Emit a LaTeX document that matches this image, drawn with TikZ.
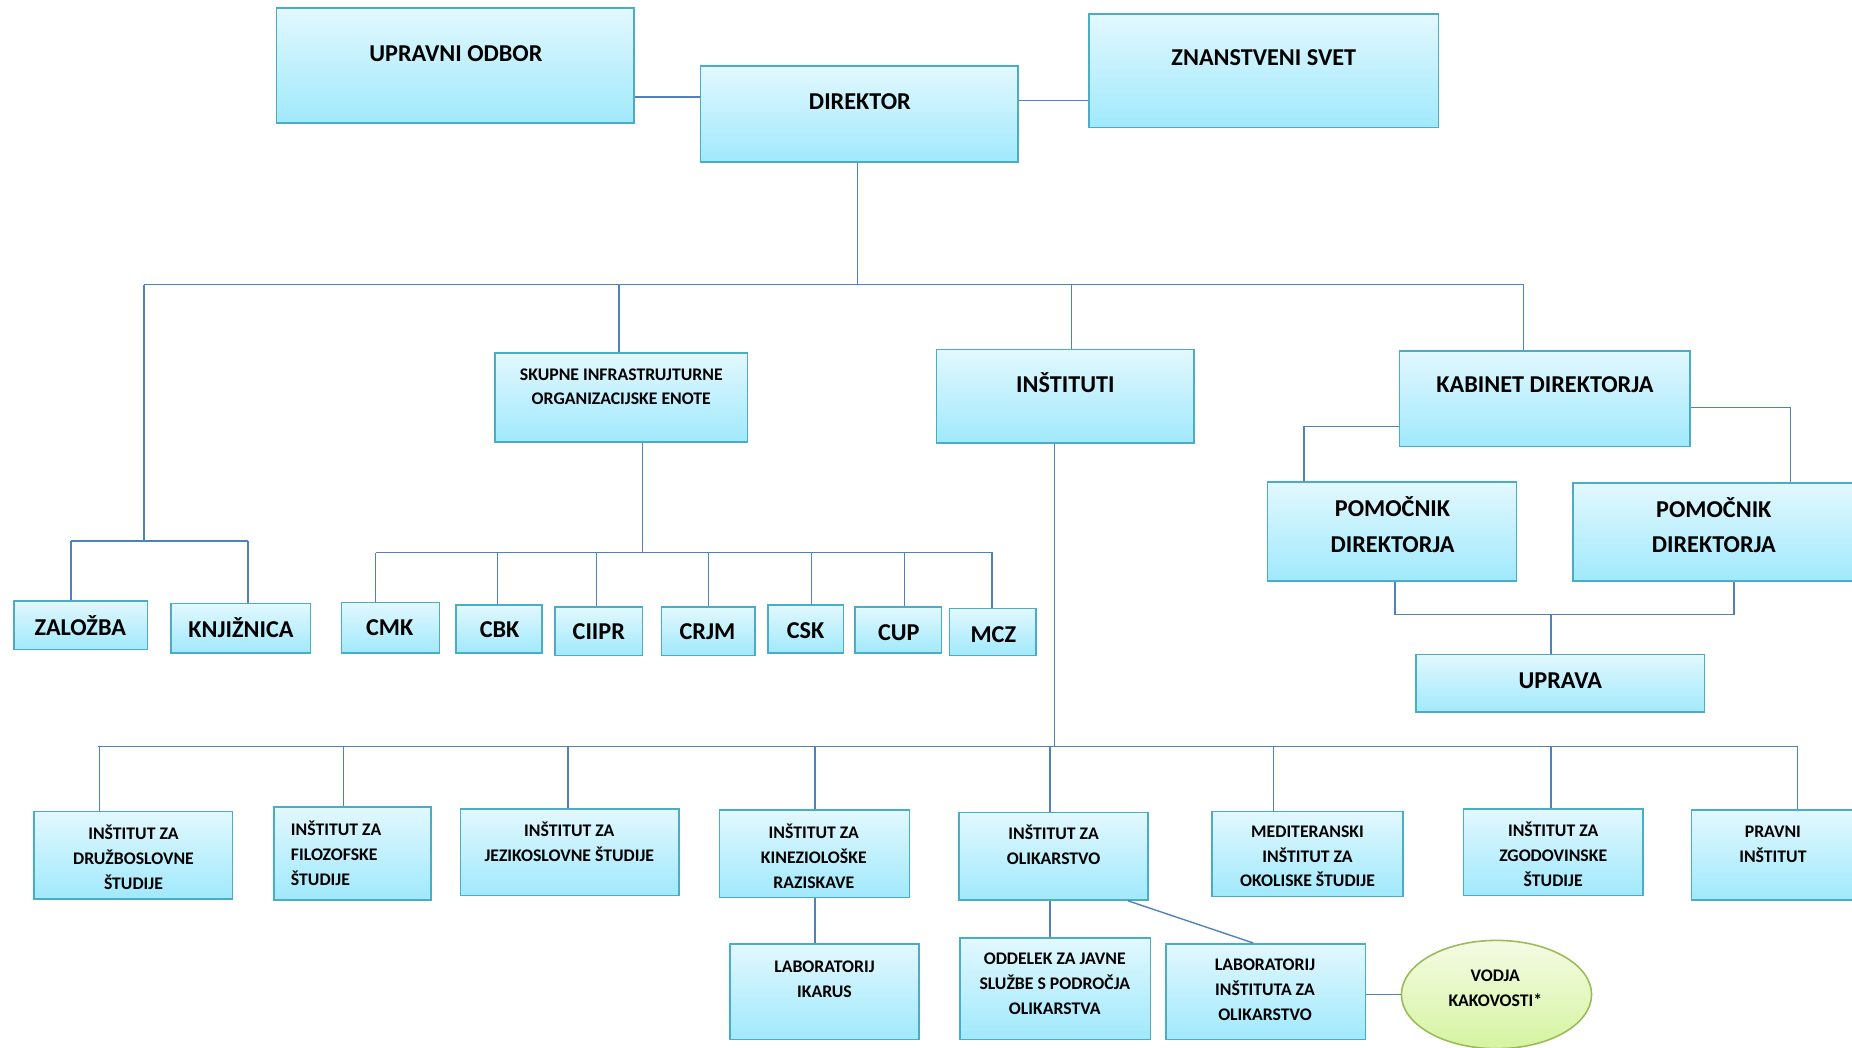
\documentclass[tikz,border=0pt]{standalone}
\usepackage{fontspec}
\setmainfont{Carlito}
\usetikzlibrary{fit,shapes.geometric}
\definecolor{boxtop}{HTML}{E2F8FE}
\definecolor{boxbot}{HTML}{A0E9FC}
\definecolor{boxline}{HTML}{4BACC6}
\definecolor{linkblue}{HTML}{4F81BD}
\definecolor{vktop}{HTML}{F4FBE4}
\definecolor{vkbot}{HTML}{D5F4A0}
\definecolor{vkline}{HTML}{9BBB59}
\begin{document}
\begin{tikzpicture}[x=0.6pt,y=-0.6pt]
\tikzstyle{every node}+=[inner sep=0pt]
\tikzstyle{box}=[draw=boxline, line width=0.8pt, top color=boxtop, bottom color=boxbot]
\tikzstyle{link}=[draw=linkblue, line width=0.7pt]
\tikzstyle{txt}=[font=\bfseries\fontsize{12.3}{18}\selectfont, align=center]
\tikzstyle{stxt}=[font=\bfseries\fontsize{9}{12.6}\selectfont, align=center]
\useasboundingbox (0,0) rectangle (1568,887);
\node [box, fit={(234,7) (537,104)}] (uo) {};
\draw (386,45) node [txt] (uotxt) {UPRAVNI ODBOR};
\node [box, fit={(593,56) (862,137)}] (dir) {};
\draw (728,86) node [txt] (dirtxt) {DIREKTOR};
\node [box, fit={(922,12) (1218,108)}] (zs) {};
\draw (1070,49) node [txt] (zstxt) {ZNANSTVENI SVET};
\node [box, fit={(419,299) (633,374)}] (sk) {};
\draw (526,327.5) node [stxt] (sktxt) {SKUPNE INFRASTRUJTURNE\\ORGANIZACIJSKE ENOTE};
\node [box, fit={(793,296) (1011,375)}] (ins) {};
\draw (902,324) node [txt] (instxt) {INŠTITUTI};
\node [box, fit={(1185,297) (1431,378)}] (kab) {};
\draw (1308,326) node [txt] (kabtxt) {KABINET DIREKTORJA};
\node [box, fit={(1073,408) (1284,492)}] (pom1) {};
\draw (1179,444) node [txt] (pom1txt) {POMOČNIK\\DIREKTORJA};
\node [box, fit={(1332,409) (1572,492)}] (pom2) {};
\draw (1451,444.5) node [txt] (pom2txt) {POMOČNIK\\DIREKTORJA};
\node [box, fit={(1199,554) (1443,603)}] (upr) {};
\draw (1321,576) node [txt] (uprtxt) {UPRAVA};
\node [box, fit={(12,509) (125,550)}] (zal) {};
\draw (68,530) node [txt] (zaltxt) {ZALOŽBA};
\node [box, fit={(145,511) (263,553)}] (knj) {};
\draw (204,531) node [txt] (knjtxt) {KNJIŽNICA};
\node [box, fit={(289,510) (372,553)}] (cmk) {};
\draw (330,531) node [txt] (cmktxt) {CMK};
\node [box, fit={(386,512) (459,553)}] (cbk) {};
\draw (423,533) node [txt] (cbktxt) {CBK};
\node [box, fit={(470,514) (544,555)}] (ciipr) {};
\draw (507,535) node [txt] (ciiprtxt) {CIIPR};
\node [box, fit={(560,514) (639,555)}] (crjm) {};
\draw (599,535) node [txt] (crjmtxt) {CRJM};
\node [box, fit={(650,512) (714,553)}] (csk) {};
\draw (682,534) node [txt] (csktxt) {CSK};
\node [box, fit={(724,514) (797,553)}] (cup) {};
\draw (761,536) node [txt] (cuptxt) {CUP};
\node [box, fit={(804,515) (877,555)}] (mcz) {};
\draw (841,537) node [txt] (mcztxt) {MCZ};
\node [box, fit={(29,687) (197,761)}] (idr) {};
\draw (113,726) node [stxt] (idrtxt) {INŠTITUT ZA\\DRUŽBOSLOVNE\\ŠTUDIJE};
\node [box, fit={(232,683) (365,762)}] (ifi) {};
\draw (246,722.5) node [stxt, anchor=west, align=left] (ifitxt) {INŠTITUT ZA\\FILOZOFSKE\\ŠTUDIJE};
\node [box, fit={(390,685) (575,758)}] (ije) {};
\draw (482,712.5) node [stxt] (ijetxt) {INŠTITUT ZA\\JEZIKOSLOVNE ŠTUDIJE};
\node [box, fit={(609,686) (770,760)}] (iki) {};
\draw (689,725) node [stxt] (ikitxt) {INŠTITUT ZA\\KINEZIOLOŠKE\\RAZISKAVE};
\node [box, fit={(812,688) (972,762)}] (iol) {};
\draw (892,715.5) node [stxt] (ioltxt) {INŠTITUT ZA\\OLIKARSTVO};
\node [box, fit={(1026,687) (1188,759)}] (ime) {};
\draw (1107,725) node [stxt] (imetxt) {MEDITERANSKI\\INŠTITUT ZA\\OKOLISKE ŠTUDIJE};
\node [box, fit={(1239,685) (1391,758)}] (izg) {};
\draw (1315,723.5) node [stxt] (izgtxt) {INŠTITUT ZA\\ZGODOVINSKE\\ŠTUDIJE};
\node [box, fit={(1432,686) (1572,762)}] (ipr) {};
\draw (1501,714.5) node [stxt] (iprtxt) {PRAVNI\\INŠTITUT};
\node [box, fit={(618,799) (778,880)}] (lik) {};
\draw (698,829) node [stxt] (liktxt) {LABORATORIJ\\IKARUS};
\node [box, fit={(813,794) (974,880)}] (odd) {};
\draw (893,833) node [stxt] (oddtxt) {ODDELEK ZA JAVNE\\SLUŽBE S PODROČJA\\OLIKARSTVA};
\node [box, fit={(987,799) (1156,880)}] (lio) {};
\draw (1071,838) node [stxt] (liotxt) {LABORATORIJ\\INŠTITUTA ZA\\OLIKARSTVO};
\node [ellipse, draw=vkline, line width=0.8pt, top color=vktop, bottom color=vkbot, minimum width=96.6pt, minimum height=55pt] (vk) at (1267,842) {};
\draw (1266,836.5) node [stxt] (vktxt) {VODJA\\KAKOVOSTI*};
\coordinate (bus) at (122,241);
\coordinate (busend) at (1290,241);
\coordinate (zbus) at (60,458);
\coordinate (zbusend) at (210,458);
\coordinate (cbus) at (318,468);
\coordinate (cbusend) at (841,468);
\coordinate (ibus) at (83,632);
\coordinate (ibusend) at (1522,632);
\coordinate (pbus) at (1181,520);
\draw [link] (uo.east |- 0,82) -- (dir.west |- 0,82);
\draw [link] (dir.east |- 0,85) -- (zs.west |- 0,85);
\draw [link] (dir.south -| 726,0) -- (bus -| 726,0);
\draw [link] (bus) -- (busend);
\draw [link] (bus) -- (bus |- zbus);
\draw [link] (zbus) -- (zbusend);
\draw [link] (zbus) -- (zal.north -| zbus);
\draw [link] (zbusend) -- (knj.north -| zbusend);
\draw [link] (bus -| 524,0) -- (sk.north -| 524,0);
\draw [link] (bus -| 907,0) -- (ins.north -| 907,0);
\draw [link] (busend) -- (kab.north -| busend);
\draw [link] (sk.south -| 544,0) -- (cbus -| 544,0);
\draw [link] (cbus) -- (cbusend);
\foreach \n/\x in {cmk/318,cbk/421,ciipr/505,crjm/600,csk/687,cup/766,mcz/840}
  \draw [link] (cbus -| \x,0) -- (\n.north -| \x,0);
\draw [link] (ins.south -| 893,0) -- (ibus -| 893,0);
\draw [link] (ibus) -- (ibusend);
\foreach \n/\x in {idr/84,ifi/291,ije/481,iki/690,iol/889,ime/1078,izg/1313,ipr/1522}
  \draw [link] (ibus -| \x,0) -- (\n.north -| \x,0);
\draw [link] (iki.south -| 690,0) -- (lik.north -| 690,0);
\draw [link] (iol.south -| 889,0) -- (odd.north -| 889,0);
\draw [link] (iol.south -| 955,0) -- (lio.north -| 1061,0);
\draw [link] (lio.east |- vk.west) -- (vk.west);
\draw [link] (kab.west |- 0,361) -| (pom1.north -| 1104,0);
\draw [link] (kab.east |- 0,345) -| (pom2.north -| 1516,0);
\draw [link] (pom1.south -| pbus) -- (pbus) -- (pbus -| 1468,0) -- (pom2.south -| 1468,0);
\draw [link] (pbus -| 1313,0) -- (upr.north -| 1313,0);
\end{tikzpicture}
\end{document}
